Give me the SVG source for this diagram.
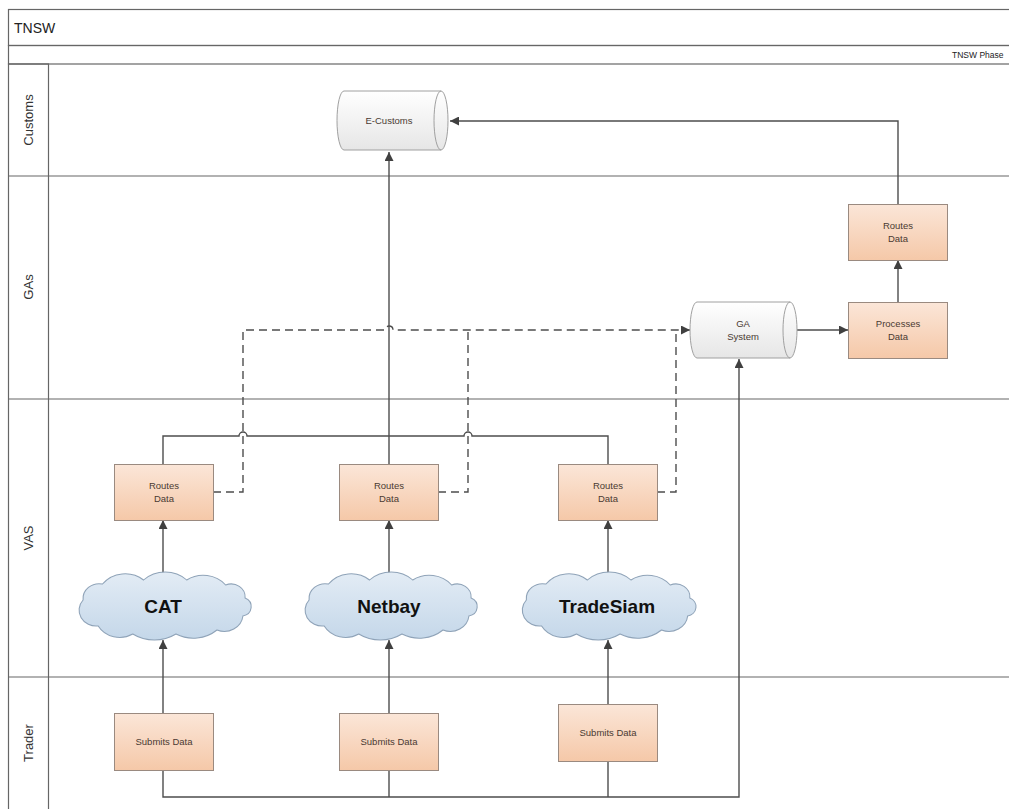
<svg xmlns="http://www.w3.org/2000/svg" width="1009" height="809" viewBox="0 0 1009 809">
<defs>
<linearGradient id="gBox" x1="0" y1="0" x2="0" y2="1"><stop offset="0" stop-color="#fbe6d8"/><stop offset="1" stop-color="#f5c8a8"/></linearGradient>
<linearGradient id="gCyl" x1="0" y1="0" x2="0" y2="1"><stop offset="0" stop-color="#ffffff"/><stop offset="1" stop-color="#e6e6e6"/></linearGradient>
<linearGradient id="gCloud" x1="0" y1="0" x2="0" y2="1"><stop offset="0" stop-color="#e3ecf5"/><stop offset="1" stop-color="#c4d7e9"/></linearGradient>
<linearGradient id="gLane" x1="0" y1="0" x2="1" y2="0"><stop offset="0" stop-color="#f9f9f9"/><stop offset="1" stop-color="#ebebeb"/></linearGradient>
<linearGradient id="gBar" x1="0" y1="0" x2="0" y2="1"><stop offset="0" stop-color="#ffffff"/><stop offset="1" stop-color="#ececec"/></linearGradient>
<marker id="arr" viewBox="0 0 10 10" refX="10" refY="5" markerWidth="9" markerHeight="9" markerUnits="userSpaceOnUse" orient="auto"><path d="M0,0 L10,5 L0,10 Z" fill="#404040"/></marker>
<path id="cloud" d="M-74,-6 A15,15 0 0 1 -56,-22 A26.6,26.6 0 0 1 -18,-26 A29,29 0 0 1 22,-26 A27,27 0 0 1 58,-21 A13,13 0 0 1 76,-8 A9.5,9.5 0 0 1 74,10 A17.3,17.3 0 0 1 50,24 A33.4,33.4 0 0 1 12,28 A36.3,36.3 0 0 1 -28,28 A23,23 0 0 1 -60,20 A15.9,15.9 0 0 1 -74,-6 Z"/>
</defs>
<style>
.frame{fill:none;stroke:#666;stroke-width:1.2}
.lane{stroke:#666;stroke-width:1.2}
.box{fill:url(#gBox);stroke:#9a8a80;stroke-width:1}
.cyl{fill:url(#gCyl);stroke:#a0a0a0;stroke-width:1}
.cylin{fill:none;stroke:#a0a0a0;stroke-width:1}
.cloud{fill:url(#gCloud);stroke:#8fa3b8;stroke-width:1}
.t{font-family:"Liberation Sans",Arial,sans-serif;font-size:9.5px;fill:#4a3a32;text-anchor:middle}
.ct{font-family:"Liberation Sans",Arial,sans-serif;font-size:19px;font-weight:bold;fill:#111;text-anchor:middle}
.lt{font-family:"Liberation Sans",Arial,sans-serif;font-size:13px;fill:#333;text-anchor:middle}
.c{fill:none;stroke:#4d4d4d;stroke-width:1.4}
.d{fill:none;stroke:#4d4d4d;stroke-width:1.4;stroke-dasharray:8,5}
</style>
<rect width="1009" height="809" fill="#fff"/>
<g id="pool">
<rect x="8.5" y="9.5" width="1010" height="36" fill="url(#gBar)" class="frame"/>
<text x="14" y="33" style="font-family:'Liberation Sans',Arial,sans-serif;font-size:14px;fill:#222">TNSW</text>
<rect x="8.5" y="45.5" width="1010" height="18.5" fill="url(#gBar)" class="frame"/>
<text x="952" y="58" style="font-family:'Liberation Sans',Arial,sans-serif;font-size:8.5px;fill:#222">TNSW Phase</text>
<rect x="8.5" y="64" width="40" height="760" fill="url(#gLane)" class="frame"/>
<line x1="8" y1="176" x2="1009" y2="176" class="lane"/>
<line x1="8" y1="399" x2="1009" y2="399" class="lane"/>
<line x1="8" y1="677" x2="1009" y2="677" class="lane"/>
<text class="lt" transform="translate(33,120) rotate(-90)">Customs</text>
<text class="lt" transform="translate(33,287) rotate(-90)">GAs</text>
<text class="lt" transform="translate(33,538) rotate(-90)">VAS</text>
<text class="lt" transform="translate(33,743) rotate(-90)">Trader</text>
</g>
<g id="connectors">
<path class="c" d="M389,464 V152" marker-end="url(#arr)"/>
<path class="c" d="M163,464 V436 H239 A4,4 0 0 1 247,436 H389"/>
<path class="c" d="M608,464 V436 H472 A4,4 0 0 0 464,436 H389"/>
<path class="d" d="M213,492 H243 V330 H385 A4,4 0 0 1 393,330 H690" marker-end="url(#arr)"/>
<path class="d" d="M438,492 H468 V330"/>
<path class="d" d="M657,492 H676 V330"/>
<path class="c" d="M898,204 V121 H450" marker-end="url(#arr)"/>
<path class="c" d="M898,302 V260" marker-end="url(#arr)"/>
<path class="c" d="M797,330 H848" marker-end="url(#arr)"/>
<path class="c" d="M163,770 V797 H739 V359" marker-end="url(#arr)"/>
<path class="c" d="M389,770 V797"/>
<path class="c" d="M608,761 V797"/>
<path class="c" d="M163,713 V640" marker-end="url(#arr)"/>
<path class="c" d="M389,713 V640" marker-end="url(#arr)"/>
<path class="c" d="M608,704 V640" marker-end="url(#arr)"/>
<path class="c" d="M163,573 V520" marker-end="url(#arr)"/>
<path class="c" d="M389,573 V520" marker-end="url(#arr)"/>
<path class="c" d="M608,573 V520" marker-end="url(#arr)"/>
</g>
<g id="ecustoms">
<path class="cyl" d="M344,91 H441 A7,29.5 0 0 1 441,150 H344 A7,29.5 0 0 1 344,91 Z"/>
<path class="cylin" d="M441,91 A7,29.5 0 0 0 441,150"/>
<text class="t" x="389" y="124">E-Customs</text>
</g>
<g id="gasystem">
<path class="cyl" d="M697,302 H790 A7,28 0 0 1 790,358 H697 A7,28 0 0 1 697,302 Z"/>
<path class="cylin" d="M790,302 A7,28 0 0 0 790,358"/>
<text class="t" x="743" y="327">GA</text>
<text class="t" x="743" y="340">System</text>
</g>
<g id="ga-routes">
<rect class="box" x="848.5" y="204.5" width="99" height="56"/>
<text class="t" x="898" y="229">Routes</text>
<text class="t" x="898" y="242">Data</text>
</g>
<g id="ga-processes">
<rect class="box" x="848.5" y="302.5" width="99" height="56"/>
<text class="t" x="898" y="327">Processes</text>
<text class="t" x="898" y="340">Data</text>
</g>
<g id="routes1">
<rect class="box" x="114.5" y="464.5" width="99" height="56"/>
<text class="t" x="164" y="489">Routes</text>
<text class="t" x="164" y="502">Data</text>
</g>
<g id="routes2">
<rect class="box" x="339.5" y="464.5" width="99" height="56"/>
<text class="t" x="389" y="489">Routes</text>
<text class="t" x="389" y="502">Data</text>
</g>
<g id="routes3">
<rect class="box" x="558.5" y="464.5" width="99" height="56"/>
<text class="t" x="608" y="489">Routes</text>
<text class="t" x="608" y="502">Data</text>
</g>
<g id="cat">
<use href="#cloud" class="cloud" transform="translate(163,606) scale(1.08,1)"/>
<text class="ct" x="163" y="613">CAT</text>
</g>
<g id="netbay">
<use href="#cloud" class="cloud" transform="translate(389,606) scale(1.08,1)"/>
<text class="ct" x="389" y="613">Netbay</text>
</g>
<g id="tradesiam">
<use href="#cloud" class="cloud" transform="translate(607,606) scale(1.09,1)"/>
<text class="ct" x="607" y="613">TradeSiam</text>
</g>
<g id="submit1">
<rect class="box" x="114.5" y="713.5" width="99" height="57"/>
<text class="t" x="164" y="745">Submits Data</text>
</g>
<g id="submit2">
<rect class="box" x="339.5" y="713.5" width="99" height="57"/>
<text class="t" x="389" y="745">Submits Data</text>
</g>
<g id="submit3">
<rect class="box" x="558.5" y="704.5" width="99" height="57"/>
<text class="t" x="608" y="736">Submits Data</text>
</g>
</svg>
